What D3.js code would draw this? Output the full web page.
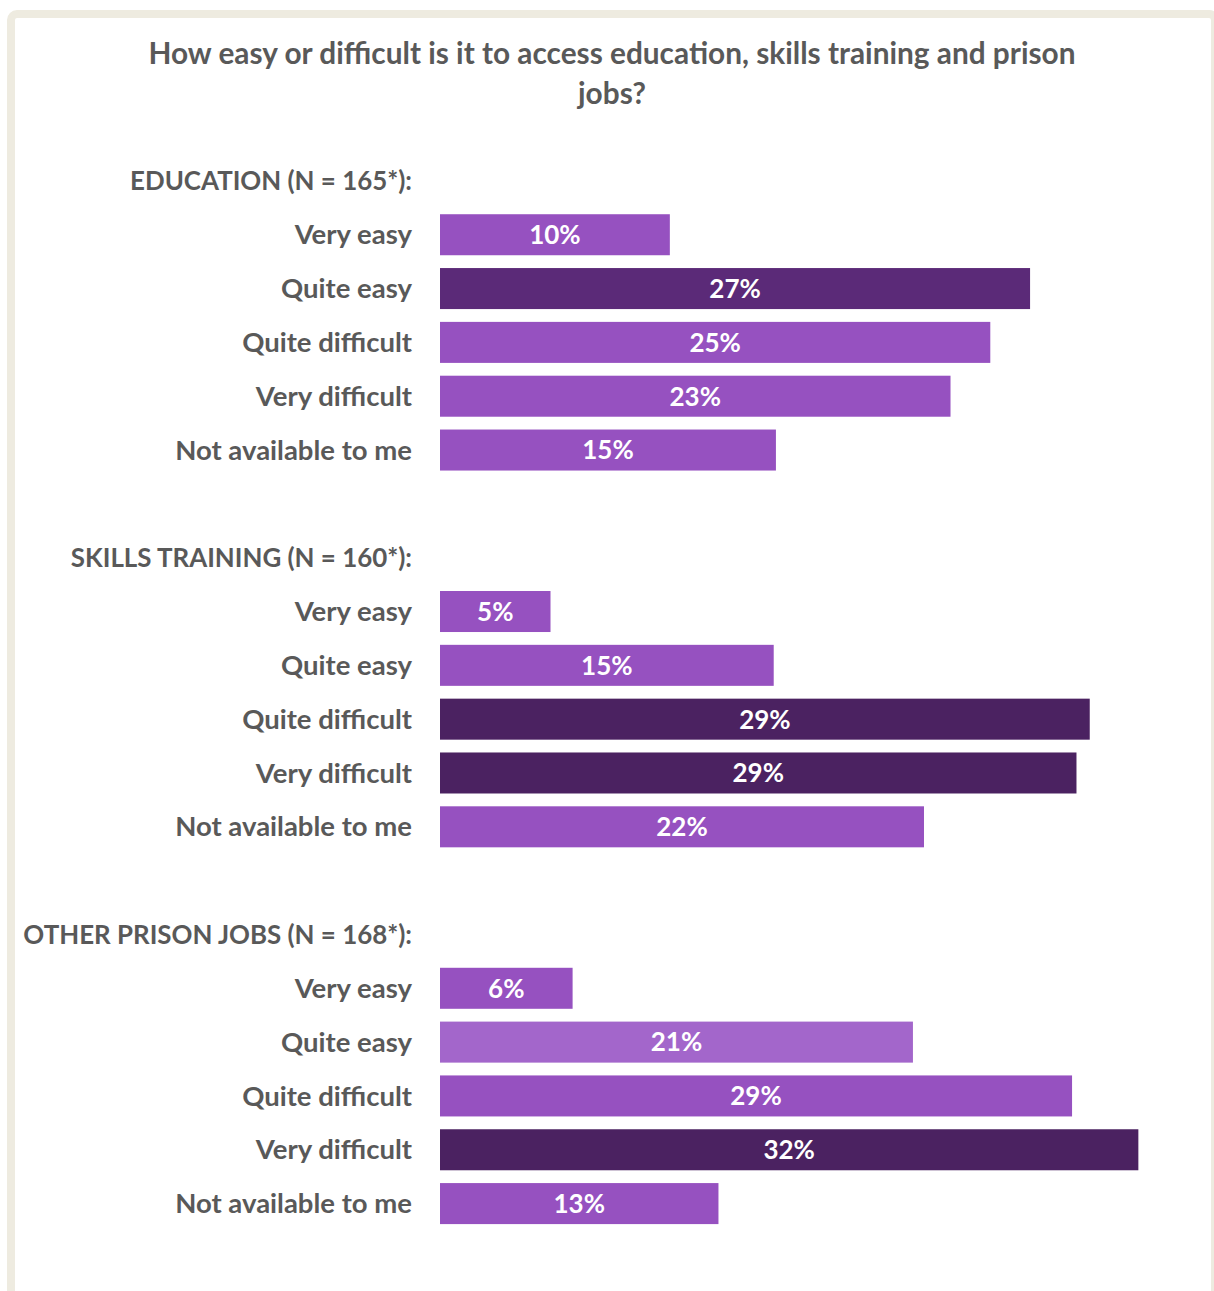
<!DOCTYPE html>
<html>
<head>
<meta charset="utf-8">
<script src="https://cdn.jsdelivr.net/npm/d3@7"></script>
<style>
  html, body { margin: 0; padding: 0; background: #ffffff; }
  svg { display: block; }
</style>
</head>
<body>
<svg id="chart" width="1214" height="1291"></svg>
<script>
// Survey answers, percent of respondents
const titleLines = ["How easy or difficult is it to access education, skills training and prison", "jobs?"];
const sections = ["EDUCATION (N = 165*):", "SKILLS TRAINING (N = 160*):", "OTHER PRISON JOBS (N = 168*):"];
const answers = ["Very easy", "Quite easy", "Quite difficult", "Very difficult", "Not available to me"];
const educationValues = [10.4, 26.7, 24.9, 23.1, 15.2];
const skillsValues = [5.0, 15.1, 29.4, 28.8, 21.9];
const jobsValues = [6.0, 21.4, 28.6, 31.6, 12.6];

// Shade of each bar: 0 light, 1 mid, 2 deep, 3 darkest
const educationTones = [1, 2, 1, 1, 1];
const skillsTones = [1, 1, 3, 3, 1];
const jobsTones = [1, 0, 1, 3, 1];
const palette = ["#a366cb", "#9651c0", "#5b2a78", "#4b2261"];

const svg = d3.select("#chart");
const font = "Lato, 'Open Sans', sans-serif";
const textGrey = "#595959";

// Frame
svg.append("rect")
  .attr("x", 11).attr("y", 14)
  .attr("width", 1204).attr("height", 1300)
  .attr("rx", 6)
  .attr("fill", "#ffffff")
  .attr("stroke", "#eeebe0")
  .attr("stroke-width", 8);

// Title
svg.append("g").selectAll("text")
  .data(titleLines)
  .join("text")
  .attr("x", 612)
  .attr("y", (d, i) => 64 + i * 40)
  .attr("text-anchor", "middle")
  .attr("font-family", font)
  .attr("font-weight", 700)
  .attr("font-size", 29.8)
  .attr("fill", textGrey)
  .text(d => d);

// Build row list: header, five answers, spacer per section
const valueSets = [educationValues, skillsValues, jobsValues];
const toneSets = [educationTones, skillsTones, jobsTones];
const rows = [];
sections.forEach((s, si) => {
  rows.push({ key: `h${si}`, type: "header", label: s });
  answers.forEach((a, ai) => {
    rows.push({ key: `b${si}-${ai}`, type: "bar", label: a, value: valueSets[si][ai], tone: toneSets[si][ai] });
  });
  if (si < sections.length - 1) rows.push({ key: `gap${si}`, type: "gap" });
});

const y = d3.scaleBand()
  .domain(rows.map(r => r.key))
  .range([154, 1230.5])
  .paddingInner(0.238)
  .paddingOuter(0.119);

const x = d3.scaleLinear()
  .domain([0, 32])
  .range([440, 440 + 32 * 22.1]);

const labelX = 412;
const bars = rows.filter(r => r.type === "bar");
const headers = rows.filter(r => r.type === "header");

// Section headers
svg.append("g").selectAll("text")
  .data(headers)
  .join("text")
  .attr("x", labelX)
  .attr("y", d => y(d.key) + y.bandwidth() / 2)
  .attr("dy", "0.35em")
  .attr("text-anchor", "end")
  .attr("font-family", font)
  .attr("font-weight", 700)
  .attr("font-size", 25.9)
  .attr("fill", textGrey)
  .text(d => d.label);

// Answer labels
svg.append("g").selectAll("text")
  .data(bars)
  .join("text")
  .attr("x", labelX)
  .attr("y", d => y(d.key) + y.bandwidth() / 2)
  .attr("dy", "0.35em")
  .attr("text-anchor", "end")
  .attr("font-family", font)
  .attr("font-weight", 700)
  .attr("font-size", 27.5)
  .attr("fill", textGrey)
  .text(d => d.label);

// Bars
svg.append("g").selectAll("rect")
  .data(bars)
  .join("rect")
  .attr("x", x(0))
  .attr("y", d => y(d.key))
  .attr("width", d => x(d.value) - x(0))
  .attr("height", y.bandwidth())
  .attr("fill", d => palette[d.tone]);

// Value labels inside bars
const fmt = d => d3.format(".0f")(d) + "%";
svg.append("g").selectAll("text")
  .data(bars)
  .join("text")
  .attr("x", d => (x(0) + x(d.value)) / 2)
  .attr("y", d => y(d.key) + y.bandwidth() / 2)
  .attr("dy", "0.36em")
  .attr("text-anchor", "middle")
  .attr("font-family", font)
  .attr("font-weight", 700)
  .attr("font-size", 26)
  .attr("fill", "#ffffff")
  .text(d => fmt(d.value));
</script>
</body>
</html>
